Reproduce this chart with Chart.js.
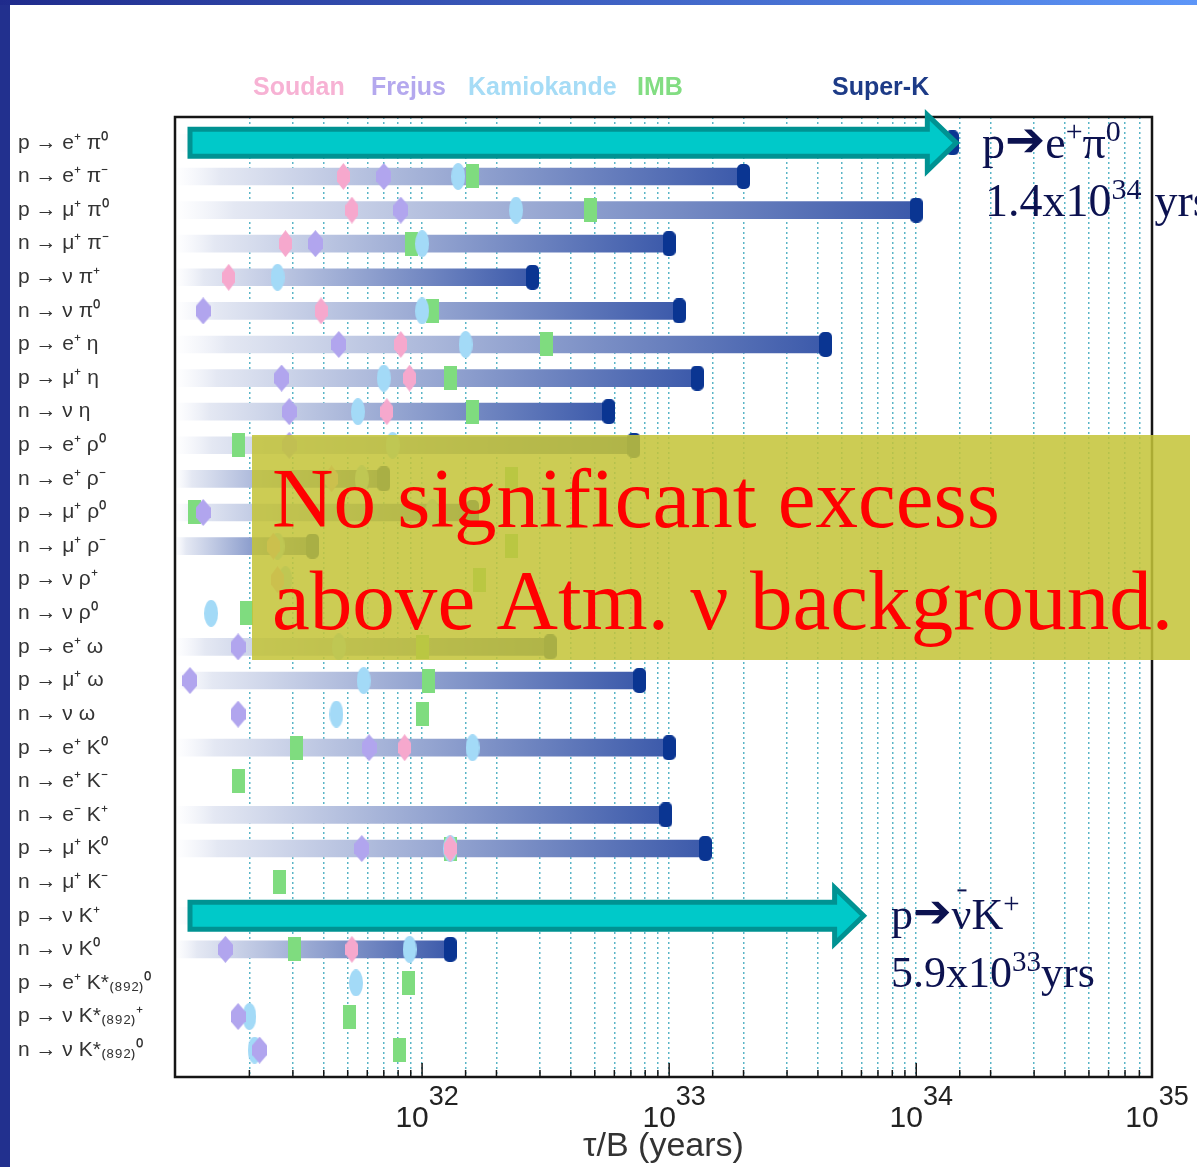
<!DOCTYPE html>
<html>
<head>
<meta charset="utf-8">
<title>Nucleon decay limits</title>
<script src="https://cdn.jsdelivr.net/npm/chart.js@4.4.0/dist/chart.umd.min.js"></script>
<style>
  html, body { margin: 0; padding: 0; background: #fff; }
  canvas { display: block; }
</style>
</head>
<body>
<canvas id="decayChart" width="1197" height="1167"></canvas>
<script>
// decay modes, top to bottom
const modes = [
  'p → e⁺ π⁰', 'n → e⁺ π⁻', 'p → μ⁺ π⁰', 'n → μ⁺ π⁻', 'p → ν π⁺', 'n → ν π⁰',
  'p → e⁺ η', 'p → μ⁺ η', 'n → ν η', 'p → e⁺ ρ⁰', 'n → e⁺ ρ⁻', 'p → μ⁺ ρ⁰',
  'n → μ⁺ ρ⁻', 'p → ν ρ⁺', 'n → ν ρ⁰', 'p → e⁺ ω', 'p → μ⁺ ω', 'n → ν ω',
  'p → e⁺ K⁰', 'n → e⁺ K⁻', 'n → e⁻ K⁺', 'p → μ⁺ K⁰', 'n → μ⁺ K⁻', 'p → ν K⁺',
  'n → ν K⁰', 'p → e⁺ K*₍₈₉₂₎⁰', 'p → ν K*₍₈₉₂₎⁺', 'n → ν K*₍₈₉₂₎⁰'
];

// lifetime limits tau/B in years (null = no limit shown)
const superK = [1.4e34, 2.0e33, 1.0e34, 1.0e33, 2.8e32, 1.1e33, 4.3e33, 1.3e33, 5.7e32, 7.2e32,
  7.0e31, 1.6e32, 3.6e31, null, null, 3.3e32, 7.6e32, null, 1.0e33, null,
  9.7e32, 1.4e33, null, 4.1e33, 1.3e32, null, null, null];
const soudan = [null, 4.8e31, 5.2e31, 2.8e31, 1.65e31, 3.9e31, 8.2e31, 8.9e31, 7.2e31, null,
  4.3e31, null, 2.5e31, 2.6e31, null, null, null, null, 8.5e31, null,
  null, 1.3e32, null, 4.4e31, 5.2e31, null, null, null];
const frejus = [null, 7.0e31, 8.2e31, 3.7e31, null, 1.3e31, 4.6e31, 2.7e31, 2.9e31, 2.9e31,
  null, 1.3e31, null, null, null, 1.8e31, 1.15e31, 1.8e31, 6.1e31, null,
  null, 5.7e31, null, 1.6e31, 1.6e31, null, 1.8e31, 2.2e31];
const kamiokande = [2.5e32, 1.4e32, 2.4e32, 1.0e32, 2.6e31, 1.0e32, 1.5e32, 7.0e31, 5.5e31, 7.6e31,
  5.7e31, 1.1e32, 2.6e31, 2.8e31, 1.4e31, 4.6e31, 5.8e31, 4.5e31, 1.6e32, null,
  null, 1.3e32, null, 1.0e32, 8.9e31, 5.4e31, 2.0e31, 2.1e31];
const imb = [null, 1.6e32, 4.8e32, 9.1e31, null, 1.1e32, 3.2e32, 1.3e32, 1.6e32, 1.8e31,
  2.3e32, 1.2e31, 2.3e32, 1.7e32, 1.95e31, 1.0e32, 1.06e32, 1.0e32, 3.1e31, 1.8e31,
  null, 1.3e32, 2.65e31, 1.55e32, 3.05e31, 8.8e31, 5.1e31, 8.1e31];

const experiments = ['Soudan', 'Frejus', 'Kamiokande', 'IMB', 'Super-K'];
const xMin = 1e31;
const xMax = 9e34;
const xLabelExps = [32, 33, 34, 35];

// highlighted results (row index, limit)
const highlightRows = [0, 23];
const highlightLimits = [1.4e34, 5.9e33];

const SANS = '"Liberation Sans", Arial, sans-serif';
const SERIF = '"Liberation Serif", "Times New Roman", serif';
const ARROW_FONT = '"DejaVu Sans", sans-serif';
const legendColors = ['#f7b2d4', '#b4a8ee', '#a6dcf6', '#82dd82', '#1d3b87'];
const legendX = [253, 371, 468, 637, 832];

function markerCanvas(w, h, color, shape) {
  const cv = document.createElement('canvas');
  cv.width = w;
  cv.height = h;
  const c = cv.getContext('2d');
  c.fillStyle = color;
  c.beginPath();
  if (shape === 'hex') {
    c.moveTo(w / 2, 0); c.lineTo(w, h * 0.32); c.lineTo(w, h * 0.68);
    c.lineTo(w / 2, h); c.lineTo(0, h * 0.68); c.lineTo(0, h * 0.32);
    c.closePath();
  } else if (shape === 'ellipse') {
    c.ellipse(w / 2, h / 2, w / 2, h / 2, 0, 0, Math.PI * 2);
  } else if (shape === 'rect') {
    c.rect(0, 0, w, h);
  } else {
    const r = 5;
    c.moveTo(r, 0); c.lineTo(w - r, 0); c.arcTo(w, 0, w, r, r);
    c.lineTo(w, h - r); c.arcTo(w, h, w - r, h, r);
    c.lineTo(r, h); c.arcTo(0, h, 0, h - r, r);
    c.lineTo(0, r); c.arcTo(0, 0, r, 0, r);
    c.closePath();
  }
  c.fill();
  return cv;
}

const markers = {
  soudan: markerCanvas(13, 27, '#f6a8cd', 'hex'),
  frejus: markerCanvas(15, 27, '#b1a5ee', 'hex'),
  kamiokande: markerCanvas(14, 27, '#a3daf7', 'ellipse'),
  imb: markerCanvas(13, 24, '#7fdc7f', 'rect'),
  superK: markerCanvas(13, 25, '#0a3592', 'round')
};

function points(values) {
  return values.map((v, i) => (v == null ? null : { x: v, y: i + 1 })).filter(Boolean);
}

function barGradient(c) {
  const chart = c.chart;
  const area = chart.chartArea;
  if (!area || !c.raw) return '#8fa0d0';
  const end = chart.scales.x.getPixelForValue(c.raw.x[1]);
  const g = chart.ctx.createLinearGradient(area.left, 0, end, 0);
  g.addColorStop(0, 'rgba(236,239,248,0)');
  g.addColorStop(0.08, '#e4e8f3');
  g.addColorStop(1, '#3b59aa');
  return g;
}

function isPow10(v) {
  const l = Math.log10(v);
  return Math.abs(l - Math.round(l)) < 1e-9;
}

// text in pieces: sup = raised small, arrow = heavy arrow glyph, over = overbar
function drawParts(ctx, x, y, parts, size) {
  let cx = x;
  for (const p of parts) {
    const s = p.sup ? Math.round(size * 0.65) : size;
    if (p.arrow) {
      ctx.font = Math.round(size * 1.05) + 'px ' + ARROW_FONT;
    } else {
      ctx.font = s + 'px ' + SERIF;
    }
    const w = ctx.measureText(p.t).width;
    ctx.fillText(p.t, cx, p.sup ? y - size * 0.36 : (p.arrow ? y - size * 0.04 : y));
    if (p.over) {
      ctx.fillRect(cx + w * 0.3, y - size * 0.9, w * 0.45, 2);
    }
    cx += w + (p.gap || 0);
  }
}

function drawArrow(ctx, x0, tip, yc) {
  const bh = 13.5, hh = 28, hl = 29;
  ctx.beginPath();
  ctx.moveTo(x0, yc - bh);
  ctx.lineTo(tip - hl, yc - bh);
  ctx.lineTo(tip - hl, yc - hh);
  ctx.lineTo(tip, yc);
  ctx.lineTo(tip - hl, yc + hh);
  ctx.lineTo(tip - hl, yc + bh);
  ctx.lineTo(x0, yc + bh);
  ctx.closePath();
  ctx.fillStyle = '#00c9c9';
  ctx.fill();
  ctx.lineWidth = 5;
  ctx.lineJoin = 'miter';
  ctx.strokeStyle = '#009292';
  ctx.stroke();
}

const decorations = {
  id: 'decorations',
  beforeDraw(chart) {
    const ctx = chart.ctx;
    ctx.save();
    ctx.fillStyle = '#ffffff';
    ctx.fillRect(0, 0, chart.width, chart.height);
    ctx.fillStyle = '#22308e';
    ctx.fillRect(0, 0, 10, chart.height);
    const g = ctx.createLinearGradient(0, 0, chart.width, 0);
    g.addColorStop(0, '#1f2b8c');
    g.addColorStop(1, '#5d96f8');
    ctx.fillStyle = g;
    ctx.fillRect(0, 0, chart.width, 5);
    ctx.font = 'bold 25px ' + SANS;
    ctx.textBaseline = 'middle';
    experiments.forEach((name, i) => {
      ctx.fillStyle = legendColors[i];
      ctx.fillText(name, legendX[i], 88);
    });
    ctx.restore();
  },
  afterDatasetsDraw(chart) {
    const { ctx, chartArea: a, scales: { x, y } } = chart;
    ctx.save();

    // frame
    ctx.strokeStyle = '#151515';
    ctx.lineWidth = 2.5;
    ctx.strokeRect(a.left, a.top, a.right - a.left, a.bottom - a.top);

    // inward ticks
    ctx.lineWidth = 1.5;
    x.ticks.forEach(t => {
      const px = x.getPixelForValue(t.value);
      if (px <= a.left + 1 || px >= a.right - 1) return;
      const len = isPow10(t.value) ? 14 : 7;
      ctx.beginPath();
      ctx.moveTo(px, a.bottom);
      ctx.lineTo(px, a.bottom - len);
      ctx.stroke();
    });

    // tick labels 10^n
    ctx.fillStyle = '#222';
    ctx.textBaseline = 'alphabetic';
    xLabelExps.forEach(e => {
      const px = Math.min(x.getPixelForValue(Math.pow(10, e)), a.right);
      ctx.font = '30px ' + SANS;
      const w10 = ctx.measureText('10').width;
      ctx.font = '27px ' + SANS;
      const we = ctx.measureText(String(e)).width;
      const start = px - (w10 + we) / 2 + 5;
      ctx.font = '30px ' + SANS;
      ctx.fillText('10', start, a.bottom + 50);
      ctx.font = '27px ' + SANS;
      ctx.fillText(String(e), start + w10, a.bottom + 28);
    });

    // highlight arrows
    highlightRows.forEach((row, i) => {
      const yc = y.getPixelForValue(row + 1);
      const tip = x.getPixelForValue(highlightLimits[i]) + 4;
      drawArrow(ctx, a.left + 15, tip, yc);
    });

    // notes next to arrows
    ctx.fillStyle = '#0c1250';
    drawParts(ctx, 982, 158, [
      { t: 'p' }, { t: '➔', arrow: true }, { t: 'e' }, { t: '+', sup: true }, { t: 'π' }, { t: '0', sup: true }
    ], 46);
    drawParts(ctx, 985, 216, [
      { t: '1.4x10' }, { t: '34', sup: true, gap: 13 }, { t: 'yrs' }
    ], 46);
    drawParts(ctx, 891, 929, [
      { t: 'p' }, { t: '➔', arrow: true }, { t: 'ν', over: true }, { t: 'K' }, { t: '+', sup: true }
    ], 44);
    drawParts(ctx, 891, 987, [
      { t: '5.9x10' }, { t: '33', sup: true }, { t: 'yrs' }
    ], 44);

    // overlay box
    ctx.fillStyle = 'rgba(196,196,56,0.86)';
    ctx.fillRect(252, 435, 938, 225);
    ctx.fillStyle = '#ff0000';
    const line1 = 'No significant excess';
    const line2 = 'above Atm. ν background.';
    ctx.font = '80px ' + SERIF;
    const s1 = 80 * 728 / ctx.measureText(line1).width;
    const s2 = 80 * 900 / ctx.measureText(line2).width;
    const fs = (s1 + s2) / 2;
    ctx.font = fs.toFixed(1) + 'px ' + SERIF;
    ctx.fillText(line1, 272, 527);
    ctx.fillText(line2, 272, 629);

    ctx.restore();
  }
};

const ctx = document.getElementById('decayChart').getContext('2d');
const decayChart = new Chart(ctx, {
  type: 'bar',
  data: {
    datasets: [
      {
        type: 'bar',
        label: 'Super-K range',
        indexAxis: 'y',
        data: superK.map((v, i) => (v == null ? null : { x: [xMin, v], y: i + 1 })).filter(Boolean),
        backgroundColor: barGradient,
        borderWidth: 0,
        barThickness: 17,
        order: 10
      },
      { type: 'scatter', label: 'IMB', data: points(imb), pointStyle: markers.imb, order: 5 },
      { type: 'scatter', label: 'Kamiokande', data: points(kamiokande), pointStyle: markers.kamiokande, order: 4 },
      { type: 'scatter', label: 'Frejus', data: points(frejus), pointStyle: markers.frejus, order: 3 },
      { type: 'scatter', label: 'Soudan', data: points(soudan), pointStyle: markers.soudan, order: 2 },
      { type: 'scatter', label: 'Super-K', data: points(superK), pointStyle: markers.superK, order: 1 }
    ]
  },
  options: {
    responsive: false,
    animation: false,
    events: [],
    layout: { padding: { top: 117, left: 18, right: 45, bottom: 0 } },
    plugins: {
      legend: { display: false },
      tooltip: { enabled: false }
    },
    scales: {
      x: {
        type: 'logarithmic',
        position: 'bottom',
        min: xMin,
        max: xMax,
        offset: false,
        grid: { color: '#5ab5c7', lineWidth: 1.5, drawTicks: false, offset: false },
        border: { display: false, dash: [2, 3] },
        ticks: { display: false },
        title: {
          display: true,
          text: 'τ/B (years)',
          color: '#333',
          font: { family: SANS, size: 34 },
          padding: { top: 0, bottom: 0 }
        },
        afterFit: s => { s.height = 90; }
      },
      y: {
        type: 'linear',
        reverse: true,
        min: 0.23,
        max: 28.8,
        offset: false,
        grid: { display: false, offset: false },
        border: { display: false },
        afterBuildTicks: s => { s.ticks = modes.map((m, i) => ({ value: i + 1 })); },
        ticks: {
          autoSkip: false,
          crossAlign: 'far',
          color: '#333',
          font: { family: SANS, size: 21 },
          callback: v => modes[v - 1] || ''
        },
        afterFit: s => { s.width = 157; }
      }
    }
  },
  plugins: [decorations]
});
</script>
</body>
</html>
